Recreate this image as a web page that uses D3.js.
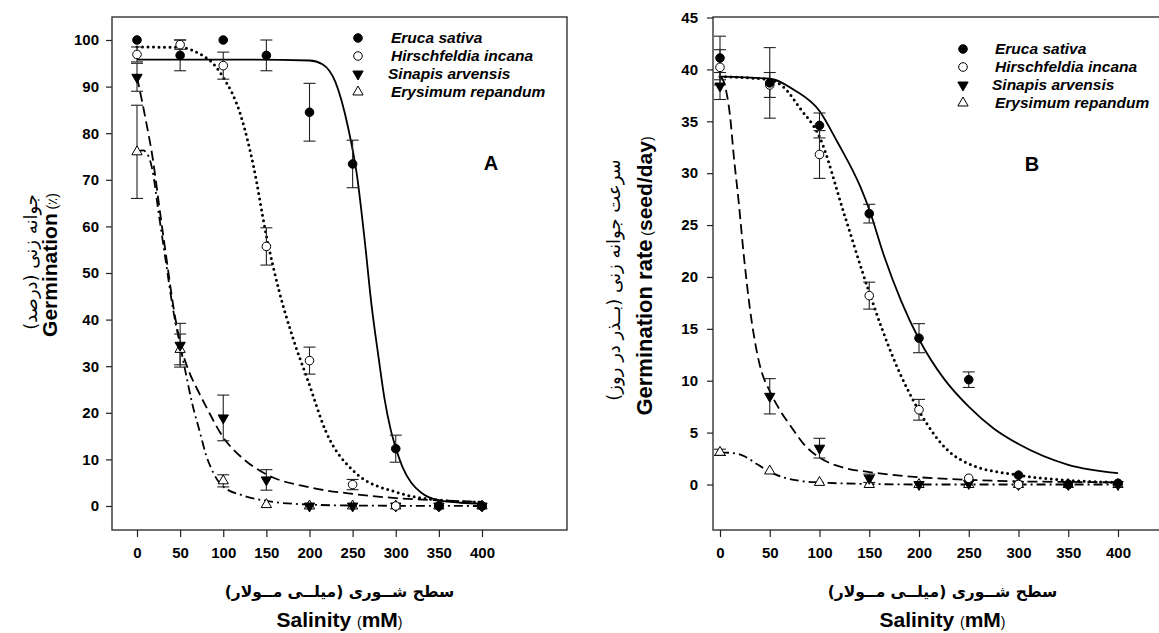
<!DOCTYPE html>
<html>
<head>
<meta charset="utf-8">
<script src="https://d3js.org/d3.v7.min.js"></script>
<style>
body { margin: 0; background: #fff; }
text { font-family: "Liberation Sans", Arial, sans-serif; fill: #000; }
.fa { font-family: "DejaVu Sans", sans-serif; }
</style>
</head>
<body>
<script>
// ---- data ----
const salinity = [0, 50, 100, 150, 200, 250, 300, 350, 400];
const species = ["Eruca sativa", "Hirschfeldia incana", "Sinapis arvensis", "Erysimum repandum"];

// A : germination (%)
const germEruca   = [100, 96.7, 100, 96.7, 84.5, 73.4, 12.3, 0, 0];
const germEruca_e = [0, 3.3, 0, 3.3, 6.2, 5.1, 2.9, 0, 0];
const germHirsch   = [96.9, 99, 94.5, 55.7, 31.2, 4.6, 0, 0, 0];
const germHirsch_e = [1.6, 1, 2.9, 4, 2.9, 1.1, 0, 0, 0];
const germSinapis   = [92, 34.5, 18.9, 5.6, 0, 0, 0, 0, 0];
const germSinapis_e = [3, 4.7, 4.9, 2.2, 0, 0, 0, 0, 0];
const germErys   = [76, 33.6, 5.4, 0.3, 0, 0, 0, 0, 0];
const germErys_e = [10, 3.3, 1.3, 0, 0, 0, 0, 0, 0];

// fitted curves of A
const fitA_eruca = [[0,95.8],[100,95.8],[200,95.6],[215,94.8],[230,91],[245,81],[255,71],[264,57],[272,43],[280,32],[287,23],[294,16.5],[300,12.5],[308,8.3],[318,5],[330,2.8],[348,1.3],[375,0.7],[400,0.5]];
const fitA_hirsch = [[0,98.5],[50,98.4],[73,97],[90,94.6],[100,92],[120,84],[135,73],[150,58],[165,46],[180,36.5],[199,26.5],[219,16],[253,7.2],[300,3],[348,1.3],[400,0.8]];
const fitA_sinapis = [[0,92],[10,83],[18.5,74.3],[26,64],[34.4,52.8],[42,43],[50,35],[60,29],[70,25],[81,21],[99,15],[124,10],[150,6.8],[200,4],[250,2.6],[300,1.7],[350,1.2],[400,0.9]];
const fitA_erys = [[0,76],[7,76.3],[13,75.2],[18,72],[25,63],[33,53],[42,42],[50,34.5],[56,29],[64,22],[73,15.8],[80,11],[88,7.3],[99,4.3],[124,2.2],[150,1.1],[200,0.3],[250,0.1],[400,0]];

// B : germination rate (seed/day)
const rateEruca   = [41.1, 38.7, 34.6, 26.1, 14.1, 10.1, 0.9, 0, 0.1];
const rateEruca_e = [2.1, 3.4, 1.2, 0.9, 1.4, 0.75, 0, 0, 0];
const rateHirsch   = [40.2, 38.5, 31.8, 18.2, 7.2, 0.6, 0, 0, 0.1];
const rateHirsch_e = [1.7, 1.2, 2.3, 1.3, 1.0, 0, 0, 0, 0];
const rateSinapis   = [38.4, 8.5, 3.5, 0.6, 0, 0.1, 0, 0, 0];
const rateSinapis_e = [1.3, 1.7, 0.95, 0.4, 0, 0, 0, 0, 0];
const rateErys   = [3.1, 1.3, 0.2, 0, 0, 0, 0, 0, 0];
const rateErys_e = [0.3, 0, 0, 0, 0, 0, 0, 0, 0];

const fitB_eruca = [[0,39.3],[50,39.1],[75,38],[100,36],[118,33],[141,28.7],[150,26.5],[165,22],[182,17.7],[200,14],[225,10.2],[250,7.5],[275,5.4],[300,3.9],[350,1.9],[400,1.1]];
const fitB_hirsch = [[0,39.3],[50,39],[65,38.2],[80,36.3],[100,33.5],[125,26],[150,18.5],[175,12],[200,7.1],[230,3.2],[250,2.0],[300,0.9],[350,0.4],[400,0.2]];
const fitB_sinapis = [[0,39.3],[3,39],[6,38],[10,35.6],[14,31.5],[18.6,27.4],[24,22],[30,17],[40,11.5],[50,9],[60,7.2],[72,5.5],[85,3.8],[100,2.6],[125,1.6],[150,1.2],[200,0.7],[250,0.45],[300,0.3],[350,0.25],[400,0.2]];
const fitB_erys = [[0,3.1],[15,3.0],[25,2.7],[35,2.1],[45,1.5],[55,1.0],[67,0.6],[80,0.35],[100,0.2],[150,0.05],[200,0],[400,0]];

const yTicksA = d3.range(0, 101, 10);
const yTicksB = d3.range(0, 46, 5);

// ---- drawing ----
const svg = d3.select("body").append("svg").attr("width", 1159).attr("height", 633);

const lineStyles = [
  { dash: null, w: 1.8, cap: "butt" },
  { dash: "0,5.5", w: 3, cap: "round" },
  { dash: "10,5", w: 1.8, cap: "butt" },
  { dash: "9,4,2,4", w: 1.8, cap: "butt" }
];
const markerFill = ["#000", "#fff", "#000", "#fff"];

function marker(sel, i) {
  if (i < 2) {
    sel.attr("d", d3.symbol().type(d3.symbolCircle).size(58)());
  } else {
    sel.attr("d", d3.symbol().type(d3.symbolTriangle).size(46)());
  }
  sel.attr("fill", markerFill[i]).attr("stroke", "#000").attr("stroke-width", 1);
}

function drawPanel(p) {
  const x = d3.scaleLinear().domain([0, 400]).range(p.xr);
  const y = d3.scaleLinear().domain([0, p.ymax]).range(p.yr);
  const g = svg.append("g");

  g.append("rect")
    .attr("x", p.frame[0]).attr("y", 17)
    .attr("width", p.frame[1] - p.frame[0]).attr("height", 513)
    .attr("fill", "none").attr("stroke", "#333").attr("stroke-width", 1.4);

  const xa = g.append("g").attr("transform", "translate(0,530)")
    .call(d3.axisBottom(x).tickValues(salinity).tickSize(7).tickPadding(10));
  const ya = g.append("g").attr("transform", `translate(${p.frame[0]},0)`)
    .call(d3.axisLeft(y).tickValues(p.yticks).tickSize(6).tickPadding(p.ypad));
  [xa, ya].forEach(a => {
    a.select(".domain").remove();
    a.selectAll("line").attr("stroke", "#222").attr("stroke-width", 1.2);
    a.selectAll("text").attr("font-size", 15).attr("font-weight", "bold")
      .attr("font-family", "Liberation Sans, Arial, sans-serif").attr("fill", "#000");
  });

  const line = d3.line().x(d => x(d[0])).y(d => y(d[1])).curve(d3.curveMonotoneX);
  p.fits.forEach((f, i) => {
    const s = lineStyles[i];
    g.append("path").attr("d", line(f)).attr("fill", "none")
      .attr("stroke", "#000").attr("stroke-width", s.w)
      .attr("stroke-linecap", s.cap)
      .attr("stroke-dasharray", s.dash);
  });

  // error bars
  p.vals.forEach((v, i) => {
    const e = p.errs[i];
    salinity.forEach((s, k) => {
      if (!e[k]) return;
      const cx = x(s), y1 = y(v[k] - e[k]), y2 = y(v[k] + e[k]);
      const eb = g.append("g").attr("stroke", "#222").attr("stroke-width", 1.1);
      eb.append("line").attr("x1", cx).attr("x2", cx).attr("y1", y1).attr("y2", y2);
      eb.append("line").attr("x1", cx - 6).attr("x2", cx + 6).attr("y1", y1).attr("y2", y1);
      eb.append("line").attr("x1", cx - 6).attr("x2", cx + 6).attr("y1", y2).attr("y2", y2);
    });
  });

  // markers (last series first so filled circles stay on top)
  [3, 2, 1, 0].forEach(i => {
    g.selectAll(null).data(salinity.map((s, k) => [s, p.vals[i][k]]))
      .enter().append("path")
      .attr("transform", d => `translate(${x(d[0])},${y(d[1])})` + (i === 2 ? " rotate(180)" : ""))
      .call(marker, i);
  });

  // legend
  species.forEach((name, i) => {
    const yy = p.leg[1] + i * p.leg[3];
    g.append("path").attr("transform", `translate(${p.leg[0]},${yy})` + (i === 2 ? " rotate(180)" : ""))
      .call(marker, i);
    g.append("text").attr("x", p.leg[2] - (i === 2 ? 3 : 0)).attr("y", yy + 5)
      .attr("font-size", 15.5).attr("font-weight", "bold").attr("font-style", "italic")
      .text(name);
  });

  g.append("text").attr("x", p.tag[0]).attr("y", p.tag[1])
    .attr("text-anchor", "middle").attr("font-size", 20).attr("font-weight", "bold")
    .text(p.tag[2]);

  // x titles
  const xc = (p.frame[0] + p.frame[1]) / 2;
  g.append("text").attr("class", "fa").attr("x", xc).attr("y", 597)
    .attr("text-anchor", "middle").attr("font-size", 15.5).attr("font-weight", "bold")
    .text("سطح شــوری (میلــی مــولار)");
  const xt = g.append("text").attr("x", xc).attr("y", 627).attr("text-anchor", "middle");
  xt.append("tspan").attr("font-size", 21).attr("font-weight", "bold").text("Salinity ");
  xt.append("tspan").attr("font-size", 14).text("(");
  xt.append("tspan").attr("font-size", 21).attr("font-weight", "bold").text("mM");
  xt.append("tspan").attr("font-size", 14).text(")");

  // y titles
  g.append("text").attr("class", "fa")
    .attr("transform", `translate(${p.yfa[0]},${p.yfa[1]}) rotate(-90)`)
    .attr("text-anchor", "middle").attr("font-size", 18)
    .text(p.yfa[2]);
  const yt = g.append("text")
    .attr("transform", `translate(${p.yen[0]},${p.yen[1]}) rotate(-90)`)
    .attr("text-anchor", "middle");
  yt.append("tspan").attr("font-size", p.yen[6]).attr("font-weight", "bold").text(p.yen[2]);
  yt.append("tspan").attr("font-size", 14).text(" (");
  yt.append("tspan").attr("font-size", p.yen[4]).attr("font-weight", p.yen[5]).text(p.yen[3]);
  yt.append("tspan").attr("font-size", 14).text(")");
}

drawPanel({
  xr: [137, 482], yr: [506, 40], ymax: 100, frame: [112, 567], yticks: yTicksA, ypad: 7,
  fits: [fitA_eruca, fitA_hirsch, fitA_sinapis, fitA_erys],
  vals: [germEruca, germHirsch, germSinapis, germErys],
  errs: [germEruca_e, germHirsch_e, germSinapis_e, germErys_e],
  leg: [358, 38, 391, 18], tag: [491, 170, "A"],
  yfa: [37, 262, "جوانه   زنی   (درصد)"],
  yen: [57, 265, "Germination", "٪", 13, "normal", 21]
});

drawPanel({
  xr: [720, 1118], yr: [484.5, 69.4], ymax: 40, frame: [713, 1172], yticks: yTicksB, ypad: 9,
  fits: [fitB_eruca, fitB_hirsch, fitB_sinapis, fitB_erys],
  vals: [rateEruca, rateHirsch, rateSinapis, rateErys],
  errs: [rateEruca_e, rateHirsch_e, rateSinapis_e, rateErys_e],
  leg: [963, 49, 995, 18], tag: [1032, 171, "B"],
  yfa: [620, 280, "سرعت جوانه زنی (بــذر در روز)"],
  yen: [652, 276, "Germination rate", "seed/day", 21, "bold", 22]
});
</script>
</body>
</html>
